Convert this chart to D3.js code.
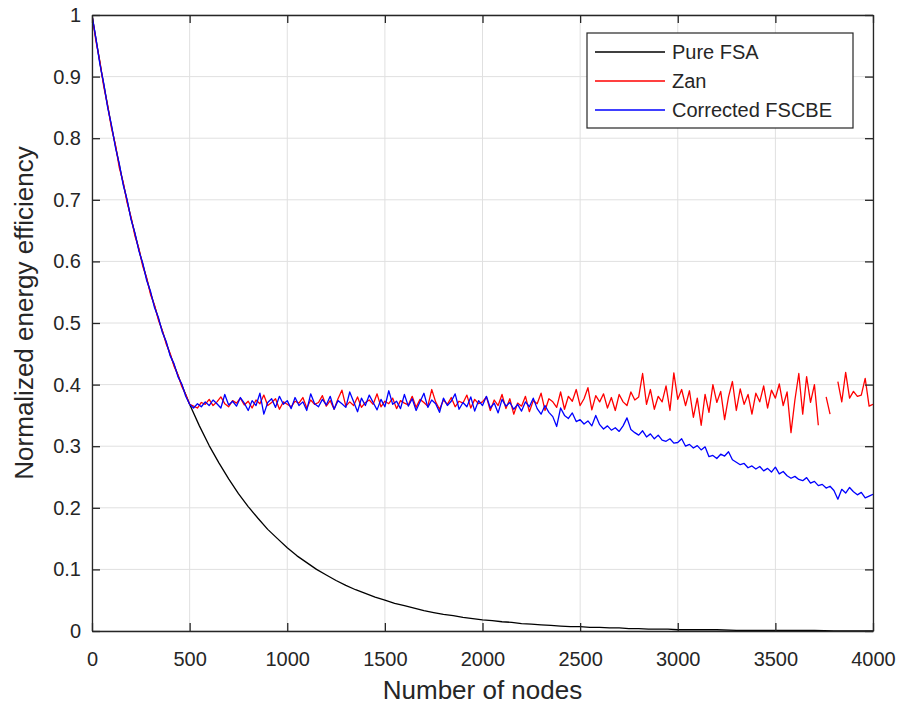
<!DOCTYPE html>
<html><head><meta charset="utf-8">
<script src="https://cdn.jsdelivr.net/npm/d3@7"></script>
<style>body{margin:0;background:#fff}svg{display:block}text{font-family:"Liberation Sans",Arial,sans-serif;fill:#262626}</style>
</head><body><svg id="c" width="906" height="710"></svg>
<script>
const xTicks=[0,500,1000,1500,2000,2500,3000,3500,4000];
const yTicks=[0,0.1,0.2,0.3,0.4,0.5,0.6,0.7,0.8,0.9,1];
const seriesNames=["Pure FSA","Zan","Corrected FSCBE"];
const seriesColors=["#000000","#ff0000","#0000ff"];
const xLabel="Number of nodes", yLabel="Normalized energy efficiency";

// Pure FSA (nodes step 50)
const fsaNodes=[0,50,100,150,200,250,300,350,400,450,500,550,600,650,700,750,800,850,900,950,1000,1050,1100,1150,1200,1250,1300,1350,1400,1450,1500,1550,1600,1650,1700,1750,1800,1850,1900,1950,2000,2050,2100,2150,2200,2250,2300,2350,2400,2450,2500,2550,2600,2650,2700,2750,2800,2850,2900,2950,3000,3100,3200,3300,3400,3500,3600,3700,3800,3900,4000];
const fsaValues=[1,0.905,0.819,0.741,0.670,0.607,0.549,0.497,0.449,0.407,0.368,0.333,0.301,0.273,0.247,0.223,0.202,0.183,0.165,0.150,0.135,0.122,0.111,0.100,0.091,0.082,0.074,0.067,0.061,0.055,0.050,0.045,0.041,0.037,0.033,0.030,0.027,0.025,0.022,0.020,0.018,0.017,0.015,0.014,0.012,0.011,0.010,0.009,0.008,0.007,0.007,0.006,0.006,0.005,0.005,0.004,0.004,0.003,0.003,0.003,0.002,0.002,0.002,0.001,0.001,0.001,0.001,0.001,0.000,0.000,0.000];

// Zan and Corrected FSCBE (nodes step 20, 0..4000)
const nodes=d3.range(0,4001,20);
const zanValues=[
1.000,0.958,0.925,0.884,0.853,0.816,0.789,0.752,0.728,0.695,
0.672,0.641,0.621,0.592,0.573,0.546,0.529,0.505,0.488,0.466,
0.451,0.430,0.416,0.397,0.384,0.368,0.365,0.362,0.371,0.368,
0.376,0.366,0.372,0.380,0.369,0.364,0.374,0.370,0.378,0.367,
0.373,0.362,0.375,0.369,0.383,0.366,0.371,0.377,0.360,0.372,
0.368,0.364,0.373,0.370,0.379,0.362,0.375,0.368,0.371,0.382,
0.365,0.374,0.360,0.377,0.391,0.365,0.372,0.366,0.380,0.363,
0.371,0.375,0.368,0.385,0.364,0.373,0.369,0.378,0.361,0.374,
0.370,0.367,0.381,0.363,0.376,0.371,0.365,0.392,0.372,0.360,
0.375,0.368,0.379,0.364,0.373,0.370,0.383,0.362,0.376,0.369,
0.372,0.380,0.358,0.375,0.366,0.384,0.361,0.377,0.352,0.370,
0.365,0.381,0.356,0.374,0.369,0.386,0.358,0.377,0.372,0.363,
0.388,0.360,0.381,0.373,0.392,0.366,0.377,0.395,0.359,0.382,
0.372,0.385,0.362,0.379,0.358,0.384,0.372,0.366,0.388,0.375,
0.380,0.418,0.368,0.392,0.360,0.381,0.372,0.398,0.358,0.419,
0.376,0.392,0.366,0.390,0.347,0.378,0.334,0.384,0.355,0.400,
0.371,0.389,0.343,0.380,0.405,0.358,0.393,0.368,0.384,0.352,
0.386,0.372,0.398,0.362,0.391,0.378,0.401,0.366,0.388,0.322,
0.375,0.418,0.352,0.413,0.371,0.400,0.334,null,0.380,0.352,
null,0.405,0.372,0.420,0.378,0.389,0.381,0.383,0.410,0.365,
0.368];
const fscbeValues=[
1.000,0.962,0.921,0.889,0.850,0.821,0.785,0.758,0.724,0.700,
0.668,0.646,0.617,0.597,0.569,0.551,0.525,0.509,0.485,0.470,
0.447,0.434,0.413,0.401,0.381,0.368,0.362,0.369,0.364,0.372,
0.366,0.375,0.369,0.362,0.384,0.367,0.373,0.365,0.379,0.370,
0.358,0.374,0.366,0.386,0.352,0.371,0.377,0.363,0.381,0.368,
0.374,0.361,0.379,0.366,0.372,0.358,0.385,0.369,0.364,0.376,
0.367,0.381,0.360,0.374,0.369,0.363,0.388,0.372,0.356,0.378,
0.366,0.383,0.371,0.359,0.376,0.364,0.390,0.368,0.373,0.361,
0.384,0.365,0.377,0.358,0.372,0.386,0.363,0.375,0.369,0.355,
0.378,0.366,0.373,0.385,0.360,0.371,0.364,0.380,0.357,0.374,
0.366,0.381,0.362,0.370,0.354,0.376,0.365,0.371,0.360,0.368,
0.357,0.372,0.364,0.378,0.361,0.352,0.366,0.355,0.348,0.332,
0.362,0.350,0.345,0.354,0.340,0.343,0.336,0.341,0.333,0.350,
0.335,0.328,0.333,0.326,0.330,0.324,0.333,0.346,0.327,0.322,
0.318,0.325,0.315,0.320,0.312,0.318,0.310,0.308,0.312,0.305,
0.306,0.312,0.300,0.303,0.297,0.301,0.294,0.299,0.283,0.285,
0.280,0.287,0.284,0.291,0.278,0.274,0.270,0.272,0.265,0.268,
0.263,0.267,0.260,0.264,0.258,0.266,0.255,0.259,0.252,0.248,
0.251,0.246,0.244,0.249,0.240,0.243,0.236,0.238,0.232,0.235,
0.228,0.214,0.230,0.224,0.233,0.226,0.221,0.225,0.216,0.219,
0.222];

const L=92,R=873,T=15,B=631;
const svg=d3.select("#c");
const x=d3.scaleLinear().domain([0,4000]).range([L,R]);
const y=d3.scaleLinear().domain([0,1]).range([B,T]);
const axisCol="#262626", gridCol="#e0e0e0";

// grid
const g=svg.append("g");
g.selectAll(".gx").data(xTicks).join("line").attr("x1",d=>x(d)).attr("x2",d=>x(d)).attr("y1",T).attr("y2",B).attr("stroke",gridCol).attr("stroke-width",1);
g.selectAll(".gy").data(yTicks).join("line").attr("y1",d=>y(d)).attr("y2",d=>y(d)).attr("x1",L).attr("x2",R).attr("stroke",gridCol).attr("stroke-width",1);

// lines
const line=d3.line().defined(d=>d[1]!=null).x(d=>x(d[0])).y(d=>y(d[1]));
const sets=[fsaNodes.map((n,i)=>[n,fsaValues[i]]),nodes.map((n,i)=>[n,zanValues[i]]),nodes.map((n,i)=>[n,fscbeValues[i]])];
svg.append("defs").append("clipPath").attr("id","clip").append("rect").attr("x",L).attr("y",T-2).attr("width",R-L).attr("height",B-T+4);
sets.forEach((s,i)=>{
  svg.append("path").datum(s).attr("d",line).attr("fill","none").attr("stroke",seriesColors[i]).attr("stroke-width",1.3).attr("stroke-linejoin","round").attr("clip-path","url(#clip)");
});

// axes (box with inward ticks)
const tl=8;
const fmt=d3.format("");
const ax=svg.append("g").attr("transform",`translate(0,${B})`).call(d3.axisBottom(x).tickValues(xTicks).tickFormat(fmt).tickSizeInner(-tl).tickSizeOuter(0).tickPadding(21));
const ay=svg.append("g").attr("transform",`translate(${L},0)`).call(d3.axisLeft(y).tickValues(yTicks).tickFormat(fmt).tickSizeInner(-tl).tickSizeOuter(0).tickPadding(11));
const at=svg.append("g").attr("transform",`translate(0,${T})`).call(d3.axisTop(x).tickValues(xTicks).tickSizeInner(-tl).tickSizeOuter(0).tickFormat(""));
const ar=svg.append("g").attr("transform",`translate(${R},0)`).call(d3.axisRight(y).tickValues(yTicks).tickSizeInner(-tl).tickSizeOuter(0).tickFormat(""));
[ax,ay,at,ar].forEach(a=>{a.select(".domain").attr("stroke",axisCol).attr("stroke-width",1.3);a.selectAll(".tick line").attr("stroke",axisCol).attr("stroke-width",1.3);a.selectAll("text").attr("font-size",20).attr("fill",axisCol).attr("font-family","'Liberation Sans',Arial,sans-serif");});

// labels
svg.append("text").attr("x",(L+R)/2).attr("y",699).attr("text-anchor","middle").attr("font-size",26).text(xLabel);
svg.append("text").attr("transform",`translate(33,${(T+B)/2 - 10}) rotate(-90)`).attr("text-anchor","middle").attr("font-size",26).text(yLabel);

// legend
const lg=svg.append("g");
lg.append("rect").attr("x",587).attr("y",33).attr("width",266).attr("height",95).attr("fill","#fff").attr("stroke",axisCol).attr("stroke-width",1.2);
seriesNames.forEach((n,i)=>{
  const yy=52+i*29;
  lg.append("line").attr("x1",595).attr("x2",665).attr("y1",yy).attr("y2",yy).attr("stroke",seriesColors[i]).attr("stroke-width",1.3);
  lg.append("text").attr("x",672).attr("y",yy+7).attr("font-size",20).attr("fill","#000").text(n);
});
</script></body></html>
